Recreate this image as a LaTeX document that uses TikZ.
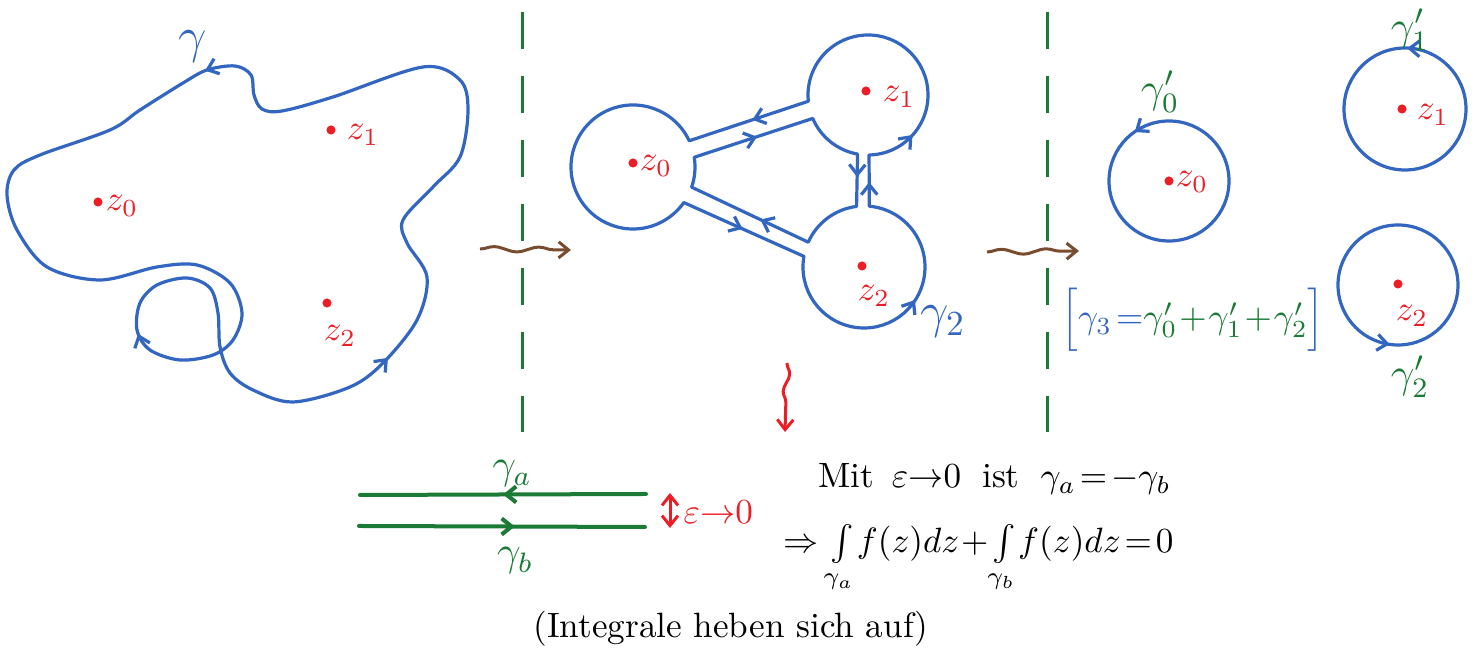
\documentclass[tikz,border=0pt]{standalone}
\usepackage{amsmath,amssymb}
\usepackage{tikz}
\usetikzlibrary{arrows.meta,calc,decorations.markings,decorations.pathmorphing}

\definecolor{penblue}{RGB}{50,102,192}
\definecolor{pengreen}{RGB}{26,122,54}
\definecolor{penred}{RGB}{234,30,36}
\definecolor{penbrown}{RGB}{120,76,46}

\begin{document}
\begin{tikzpicture}[x=0.01cm, y=0.01cm,
  >={Straight Barb[length=1mm,width=1.6mm]},
  contour/.style={penblue, line width=0.32mm, line join=round},
  midarrow/.style={postaction={decorate}, decoration={markings, mark=at position #1 with {\arrow{>}}}},
  midarrow/.default=0.5,
  tipblue/.style={penblue, line width=0.32mm, midarrow=#1},
  tipblue/.default=0.5,
  polelabel/.style={text=penred, inner sep=0pt},
  divider/.style={pengreen, line width=0.3mm, dash pattern=on 3.7mm off 2.7mm},
  squiggle/.style={penbrown, line width=0.3mm, ->, decorate, decoration={snake, amplitude=0.25mm, segment length=4.5mm, post length=1.5mm}},
  greenpath/.style={pengreen, line width=0.4mm, line cap=round},
]
\useasboundingbox (0,0) rectangle (1478,-659);

% left: the curve gamma
\draw[contour, postaction={decorate}, decoration={markings,
    mark=at position 0.395 with {\arrow{>}},
    mark=at position 0.62 with {\arrow{>}},
    mark=at position 0.985 with {\arrow{>}}}]
  plot[smooth cycle, tension=0.55] coordinates {(207,-70) (183,-83) (140,-110) (110,-130) (40,-155) (14,-170) (7,-195) (17,-230) (47,-267) (100,-280) (157,-267) (197,-265) (230,-283) (242,-313) (233,-340) (213,-355) (180,-360) (150,-350) (137,-330) (140,-303) (157,-285) (187,-278) (210,-288) (218,-313) (220,-347) (230,-373) (253,-390) (293,-402) (350,-387) (383,-363) (417,-320) (427,-277) (407,-243) (403,-220) (433,-187) (460,-157) (468,-110) (460,-80) (423,-67) (333,-97) (282,-111) (262,-109) (254,-95) (251,-75) (235,-66)};
\node[text=penblue, inner sep=0pt] (lgamma) at (193,-47) {\Large$\gamma$};
\filldraw[penred] (98,-202) circle[radius=3.8];
\filldraw[penred] (331,-130) circle[radius=3.8];
\filldraw[penred] (327,-303) circle[radius=3.8];
\node[polelabel] (lz0) at (122,-206) {$z_0$};
\node[polelabel] (lz1) at (363,-135) {$z_1$};
\node[polelabel] (lz2) at (340,-336) {$z_2$};

% dividers and squiggly arrows
\draw[divider] (522,-12) -- (522,-432);
\draw[divider] (1047,-12) -- (1047,-432);
\coordinate (sq1a) at (480,-249);
\coordinate (sq1b) at (571,-250);
\coordinate (sq2a) at (987,-252);
\coordinate (sq2b) at (1079,-251);
\coordinate (sq3a) at (787,-363);
\coordinate (sq3b) at (785,-432);
\draw[squiggle] (sq1a) -- (sq1b);
\draw[squiggle] (sq2a) -- (sq2b);
\draw[squiggle, penred, decoration={snake, amplitude=0.3mm, segment length=3.5mm, post length=1.5mm}] (sq3a) -- (sq3b);

% middle: keyhole contour
\coordinate (c0) at (633,-167);
\coordinate (c1) at (868,-95);
\coordinate (c2) at (864,-267);
\coordinate (a1) at ($(c0)+(25:62)$);
\coordinate (a2) at ($(c0)+(9:62)$);
\coordinate (a3) at ($(c0)+(-19:62)$);
\coordinate (a4) at ($(c0)+(-35:62)$);
\coordinate (b1) at ($(c1)+(186:60)$);
\coordinate (b2) at ($(c1)+(203:60)$);
\coordinate (b3) at ($(c1)+(260:60)$);
\coordinate (b4) at ($(c1)+(271:60)$);
\coordinate (d1) at ($(c2)+(97:61)$);
\coordinate (d2) at ($(c2)+(85:61)$);
\coordinate (d3) at ($(c2)+(156:61)$);
\coordinate (d4) at ($(c2)+(170:61)$);
\draw[contour] (a1) arc[start angle=25, end angle=325, radius=62] -- (d4)
  arc[start angle=170, end angle=445, radius=61] -- (b4)
  arc[start angle=271, end angle=546, radius=60] -- cycle;
\draw[contour] (a2) -- (b2) arc[start angle=203, end angle=260, radius=60] -- (d1)
  arc[start angle=97, end angle=156, radius=61] -- (a3)
  arc[start angle=-19, end angle=9, radius=62] -- cycle;
\path[tipblue=0.47] (b1) -- (a1);
\path[tipblue=0.53] (a2) -- (b2);
\path[tipblue=0.44] (b3) -- (d1);
\path[tipblue=0.47] (d2) -- (b4);
\path[tipblue=0.41] (d3) -- (a3);
\path[tipblue=0.49] (a4) -- (d4);
\path[tipblue] ($(c1)+(-47:60)$) -- ($(c1)+(-37:60)$);
\path[tipblue] ($(c2)+(-38:61)$) -- ($(c2)+(-28:61)$);
\filldraw[penred] (633,-163) circle[radius=3.8];
\filldraw[penred] (866,-91) circle[radius=3.8];
\filldraw[penred] (862,-266) circle[radius=3.8];
\node[polelabel] (mz0) at (656,-166) {$z_0$};
\node[polelabel] (mz1) at (899,-97) {$z_1$};
\node[polelabel] (mz2) at (874,-296) {$z_2$};
\node[text=penblue, inner sep=0pt] (mgamma) at (943,-322) {\Large$\gamma_2$};

% right: small circles
\coordinate (e0) at (1169,-181);
\coordinate (e1) at (1405,-109);
\coordinate (e2) at (1398,-285);
\draw[contour] (e0) circle[radius=60];
\draw[contour] (e1) circle[radius=61];
\draw[contour] (e2) circle[radius=60];
\path[tipblue] ($(e0)+(120:60)$) -- ($(e0)+(130:60)$);
\path[tipblue] ($(e1)+(83:61)$) -- ($(e1)+(93:61)$);
\path[tipblue] ($(e2)+(257:60)$) -- ($(e2)+(267:60)$);
\filldraw[penred] (1169,-181) circle[radius=3.8];
\filldraw[penred] (1402,-109) circle[radius=3.8];
\filldraw[penred] (1398,-284) circle[radius=3.8];
\node[polelabel] (rz0) at (1192,-182) {$z_0$};
\node[polelabel] (rz1) at (1433,-115) {$z_1$};
\node[polelabel] (rz2) at (1412,-316) {$z_2$};
\node[text=pengreen, inner sep=0pt] (rg0) at (1160,-92) {\large$\gamma_0'$};
\node[text=pengreen, inner sep=0pt] (rg1) at (1410,-30) {\large$\gamma_1'$};
\node[text=pengreen, inner sep=0pt] (rg2) at (1410,-377) {\large$\gamma_2'$};
\node[inner sep=0pt] (gsum) at (1193,-320) {\thickmuskip=2mu \medmuskip=1mu \textcolor{penblue}{$\Bigl[\gamma_3 =$}\textcolor{pengreen}{$\gamma_0'+\gamma_1'+\gamma_2'$}\textcolor{penblue}{$\Bigr]$}};

% bottom: two opposite paths
\coordinate (ga1) at (646,-494);
\coordinate (ga2) at (360,-495);
\coordinate (gb1) at (359,-526);
\coordinate (gb2) at (645,-527);
\draw[greenpath, midarrow=0.5] (ga1) -- (ga2);
\draw[greenpath, midarrow=0.545] (gb1) -- (gb2);
\node[text=pengreen, inner sep=0pt] (lga) at (512,-474) {\large$\gamma_a$};
\node[text=pengreen, inner sep=0pt] (lgb) at (515,-561) {\large$\gamma_b$};
\coordinate (eps1) at (670,-493);
\coordinate (eps2) at (670,-528);
\draw[penred, line width=0.3mm, <->] (eps1) -- (eps2);
\node[text=penred, inner sep=0pt, anchor=west] (leps) at (683,-512) {$\varepsilon{\to}0$};

\node[anchor=base west, inner sep=0pt] (mit) at (818,-488) {\thickmuskip=2mu \medmuskip=1mu Mit\hspace{5pt}$\varepsilon{\to}0$\hspace{6pt}ist\hspace{6pt}$\gamma_a=-\gamma_b$};
\node[anchor=base west, inner sep=0pt] (integ) at (783,-553) {\thickmuskip=2mu \medmuskip=1mu $\Rightarrow\;\int\limits_{\gamma_a}\! f(z)dz+\int\limits_{\gamma_b}\! f(z)dz=0$};
\node[anchor=base, inner sep=0pt] (heben) at (731,-638) {(Integrale heben sich auf)};
\end{tikzpicture}
\end{document}
